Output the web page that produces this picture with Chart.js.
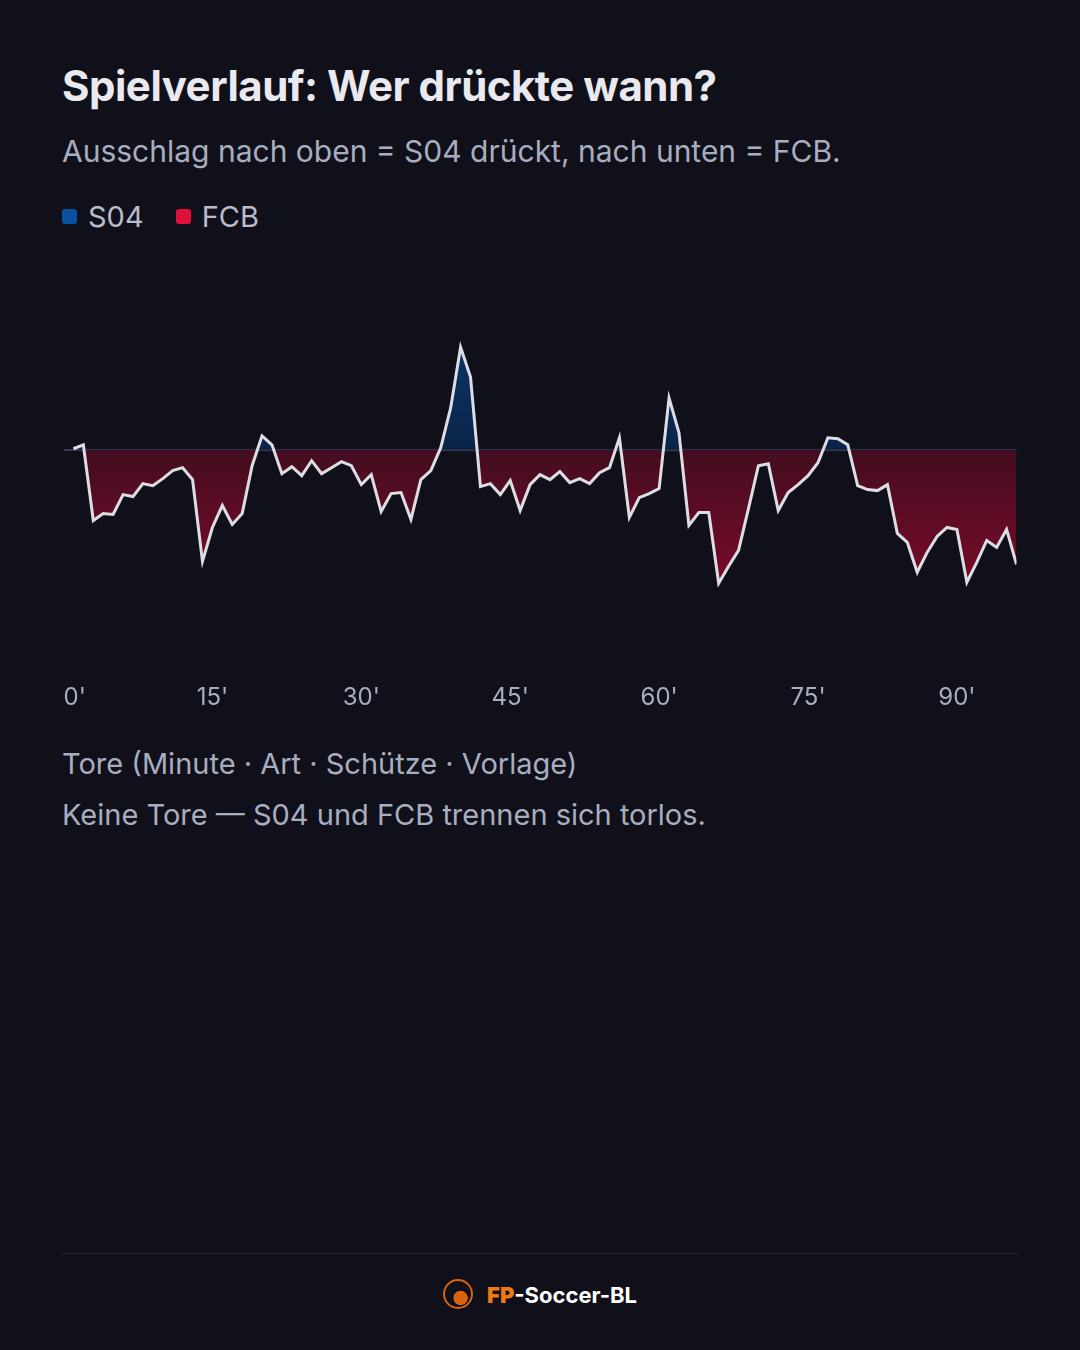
<!DOCTYPE html>
<html><head><meta charset="utf-8">
<script src="https://cdn.jsdelivr.net/npm/chart.js@4.4.1/dist/chart.umd.min.js"></script>
<style>
html,body{margin:0;padding:0;background:#0f1019;width:1080px;height:1350px;overflow:hidden;font-family:"Helvetica Neue",Inter,"Liberation Sans",Arial,sans-serif;}
.t{position:absolute;left:62px;top:60px;font-size:42px;font-weight:700;color:#e9e9ef;letter-spacing:-0.5px;}
.s{position:absolute;left:62px;top:133px;font-size:30px;color:#a9adc0;}
.lg{position:absolute;left:62px;top:199px;font-size:29px;color:#b9bccc;display:flex;gap:32px;}
.lg span{display:flex;align-items:center}
.lg i{display:inline-block;width:15px;height:15px;border-radius:3px;margin-right:11px}
#wrap{position:absolute;left:62px;top:249px;width:956px;height:480px}
.g1{position:absolute;left:62px;top:746px;font-size:29px;color:#a9adc0}
.g2{position:absolute;left:62px;top:797px;font-size:29px;color:#a9adc0}
.hr{position:absolute;left:62px;width:956px;top:1253px;height:1px;background:#262838}
.ft{position:absolute;left:0;width:1080px;top:1282px;text-align:center;font-size:22px;font-weight:700;color:#fff;}
.ft b{color:#f07a12}
.logo{display:inline-block;width:30px;height:30px;border-radius:50%;border:2px solid #d8620e;vertical-align:middle;margin-right:14px;position:relative;top:-3px;box-sizing:border-box;background:radial-gradient(circle at 60% 65%,#d8620e 0 30%,transparent 32%)}
</style></head><body>
<div class="t">Spielverlauf: Wer drückte wann?</div>
<div class="s">Ausschlag nach oben = S04 drückt, nach unten = FCB.</div>
<div class="lg"><span><i style="background:#0a4fa0"></i>S04</span><span><i style="background:#e0103a"></i>FCB</span></div>
<div id="wrap"><canvas id="c"></canvas></div>
<div class="g1">Tore (Minute · Art · Schütze · Vorlage)</div>
<div class="g2">Keine Tore — S04 und FCB trennen sich torlos.</div>
<div class="hr"></div>
<div class="ft"><span class="logo"></span><b>FP</b>-Soccer-BL</div>
<script>
const minutes = Array.from({length:96},(_,i)=>i+1);
const pressure = [1,5,-71,-64,-65,-45,-47,-34,-36,-29,-21,-18,-30,-112,-78,-56,-75,-64,-16,14,5,-24,-17,-26,-11,-24,-18,-12,-16,-35,-25,-62,
-44,-43,-70,-30,-21,2,42,103,73,-37,-34,-45,-31,-61,-35,-25,-30,-22,-33,-29,-34,-23,-18,12,-68,-48,-44,-39,52,17,-76,-63,-63,
-134,-117,-101,-59,-16,-14,-61,-43,-35,-26,-13,12,11,5,-36,-40,-41,-35,-84,-93,-123,-103,-87,-78,-80,-133,-113,-91,-98,-80,-115];
const tickMinutes = [0,15,30,45,60,75,90];
const tickLabels = ["0'","15'","30'","45'","60'","75'","90'"];
const labelPlugin={id:'xl',afterDraw(ch){const c=ch.ctx,x=ch.scales.x,b=ch.chartArea.bottom;c.save();c.fillStyle='#a9adc0';c.font='24px "Helvetica Neue",Inter,"Liberation Sans",Arial';c.textBaseline='middle';
 tickMinutes.forEach((m,i)=>{const px=x.getPixelForValue(m);c.textAlign=i===0?'left':'center';c.fillText(tickLabels[i],px,b+49);});c.restore();}};
const ctx = document.getElementById('c').getContext('2d');
const chart = new Chart(ctx,{
  type:'line',
  data:{datasets:[{data:minutes.map((m,i)=>({x:m,y:pressure[i]})),borderColor:'#dedde3',borderWidth:3,pointRadius:0,tension:0,fill:{target:'origin',above:'#0a2a55',below:'#5a0c22'}}]},
  plugins:[labelPlugin],
  options:{responsive:true,maintainAspectRatio:false,animation:false,
    layout:{padding:{left:0,right:0,top:0,bottom:80}},
    plugins:{legend:{display:false},tooltip:{enabled:false}},
    scales:{
      x:{type:'linear',min:0,max:96,display:false},
      y:{min:-200,max:200,display:true,border:{display:false},ticks:{display:false},afterFit:s=>{s.width=0;},
        grid:{drawTicks:false,lineWidth:2,color:c=>c.tick&&c.tick.value===0?'#363a52':'rgba(0,0,0,0)'}}
    }}
});
const a=chart.chartArea, z=chart.scales.y.getPixelForValue(0);
const gr=ctx.createLinearGradient(0,z,0,a.bottom-60); gr.addColorStop(0,'#430d1f'); gr.addColorStop(1,'#7a0a28');
const gb=ctx.createLinearGradient(0,z,0,a.top+90); gb.addColorStop(0,'#0a2448'); gb.addColorStop(1,'#0a3468');
chart.data.datasets[0].fill={target:'origin',above:gb,below:gr};
chart.update('none');
</script>
</body></html>
